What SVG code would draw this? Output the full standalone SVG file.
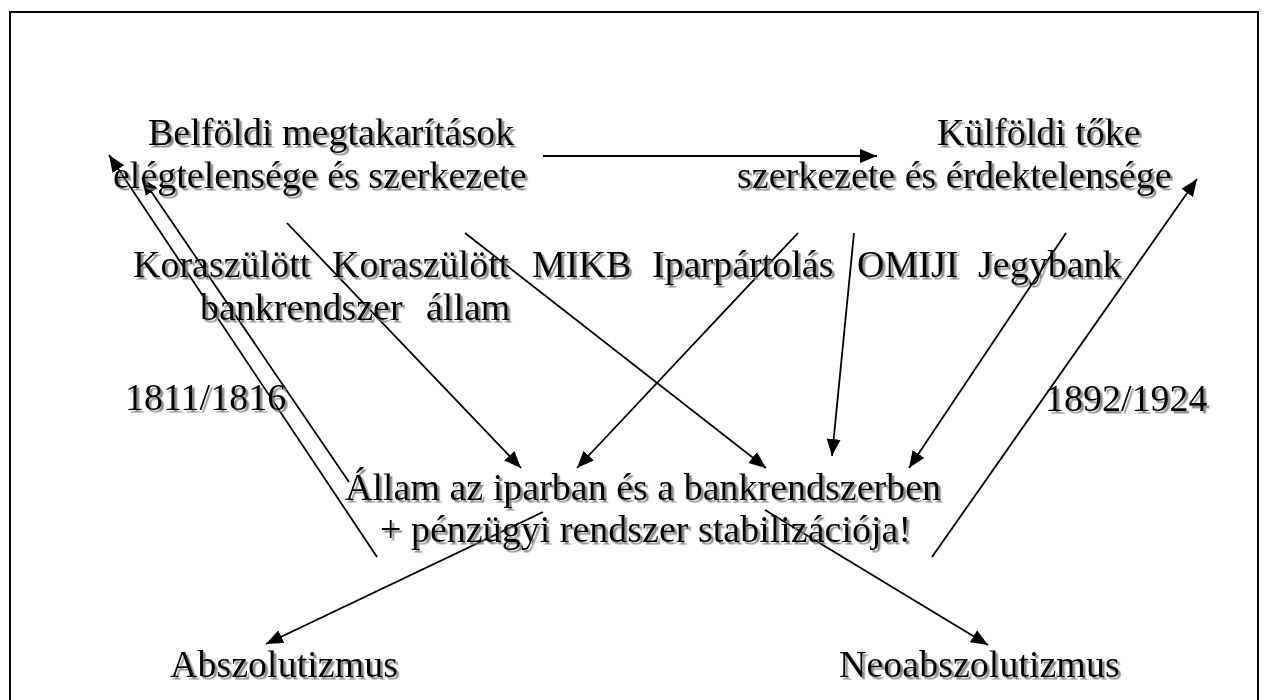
<svg xmlns="http://www.w3.org/2000/svg" width="1270" height="700" viewBox="0 0 1270 700">
  <style>
    .t { font-family: "Liberation Serif", "Times New Roman", serif; font-size: 38px; fill: #000; }
    .c { stroke: #000; stroke-width: 1.8; fill: none; }
    .a { marker-end: url(#arr); }
  </style>
  <defs>
    <marker id="arr" markerUnits="userSpaceOnUse" markerWidth="18" markerHeight="15" refX="17" refY="7" orient="auto" viewBox="0 0 18 15">
      <path d="M0,0 L17,7 L0,14 z" fill="#000"/>
    </marker>
    <filter id="sh" x="-5%" y="-20%" width="110%" height="150%">
      <feDropShadow dx="2.5" dy="2.5" stdDeviation="0.5" flood-color="#808080" flood-opacity="0.9"/>
    </filter>
  </defs>
  <rect x="10" y="12" width="1248" height="700" fill="#fff" stroke="#000" stroke-width="2"/>

  <g id="connectors">
    <line class="c a" x1="543" y1="156" x2="877" y2="156"/>
    <line class="c a" x1="377" y1="557" x2="109" y2="155"/>
    <line class="c a" x1="349" y1="482" x2="142" y2="178"/>
    <line class="c a" x1="287" y1="223" x2="521" y2="468"/>
    <line class="c a" x1="465" y1="233" x2="766" y2="468"/>
    <line class="c a" x1="798" y1="233" x2="577" y2="468"/>
    <line class="c a" x1="854" y1="233" x2="832" y2="456"/>
    <line class="c a" x1="1066" y1="233" x2="909" y2="468"/>
    <line class="c a" x1="932" y1="557" x2="1197" y2="179"/>
    <line class="c a" x1="543" y1="512" x2="266" y2="644"/>
    <line class="c a" x1="765" y1="510" x2="988" y2="645"/>
  </g>

  <g filter="url(#sh)">
    <g id="belfoldi">
      <text class="t" x="148" y="145">Belföldi megtakarítások</text>
      <text class="t" x="113" y="188">elégtelensége és szerkezete</text>
    </g>
    <g id="kulfoldi">
      <text class="t" x="937" y="145">Külföldi tőke</text>
      <text class="t" x="737" y="188">szerkezete és érdektelensége</text>
    </g>
    <g id="koraszulott-bank">
      <text class="t" x="133" y="277">Koraszülött</text>
      <text class="t" x="200" y="320">bankrendszer</text>
    </g>
    <g id="koraszulott-allam">
      <text class="t" x="332" y="277">Koraszülött</text>
      <text class="t" x="426" y="320">állam</text>
    </g>
    <g id="mikb">
      <text class="t" x="532" y="277">MIKB</text>
    </g>
    <g id="iparpartolas">
      <text class="t" x="652" y="277">Iparpártolás</text>
    </g>
    <g id="omiji">
      <text class="t" x="857" y="277">OMIJI</text>
    </g>
    <g id="jegybank">
      <text class="t" x="978" y="277">Jegybank</text>
    </g>
    <g id="year-left">
      <text class="t" x="125" y="410">1811/1816</text>
    </g>
    <g id="year-right">
      <text class="t" x="1045" y="411">1892/1924</text>
    </g>
    <g id="allam">
      <text class="t" x="345" y="500">Állam az iparban és a bankrendszerben</text>
      <text class="t" x="380" y="542">+ pénzügyi rendszer stabilizációja!</text>
    </g>
    <g id="abszolutizmus">
      <text class="t" x="170" y="677">Abszolutizmus</text>
    </g>
    <g id="neoabszolutizmus">
      <text class="t" x="839" y="677">Neoabszolutizmus</text>
    </g>
  </g>
</svg>
